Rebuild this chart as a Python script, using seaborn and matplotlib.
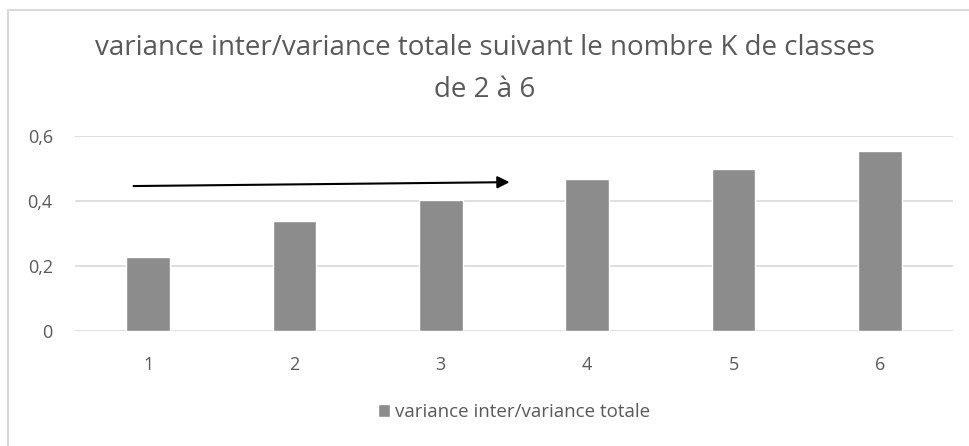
import pandas as pd
import matplotlib
matplotlib.use("Agg")
import matplotlib.pyplot as plt
import seaborn as sns
from matplotlib.patches import Rectangle

# data
k_labels = ["1", "2", "3", "4", "5", "6"]
ratio = [0.229, 0.338, 0.403, 0.467, 0.498, 0.554]
yticks = [0, 0.2, 0.4, 0.6]
ytick_labels = ["0", "0,2", "0,4", "0,6"]
series_name = "variance inter/variance totale"

df = pd.DataFrame({"K": k_labels, "ratio": ratio, "serie": series_name})

sns.set_style("white")
plt.rcParams["font.family"] = ["Open Sans", "DejaVu Sans"]
txt = "#595959"
grid = "#d9d9d9"
bar_col = "#8c8c8c"

fig = plt.figure(figsize=(9.7, 4.46), dpi=100)
ax = fig.add_axes([75 / 970, 1 - 331 / 446, 878 / 970, 195 / 446])

sns.barplot(data=df, x="K", y="ratio", hue="serie", palette=[bar_col],
            width=0.3, ax=ax, legend=True)

ax.set_ylim(0, 0.6)
ax.set_xlim(-0.5, 5.5)
ax.set_yticks(yticks)
ax.set_yticklabels(ytick_labels)
ax.yaxis.grid(True, color=grid, linewidth=1.2)
ax.set_axisbelow(True)
for s in ax.spines.values():
    s.set_visible(False)
ax.tick_params(axis="both", length=0, colors=txt, labelsize=13)
ax.tick_params(axis="y", pad=16)
ax.tick_params(axis="x", pad=18)
ax.set_xlabel("")
ax.set_ylabel("")

# arrow drawn on top of the chart
ax.annotate("", xy=(2.47, 0.458), xytext=(-0.10, 0.446),
            arrowprops=dict(arrowstyle="-|>", color="black", lw=1.5,
                            mutation_scale=18, shrinkA=0, shrinkB=0))

fig.text(0.5, 1 - 48 / 446, "variance inter/variance totale suivant le nombre K de classes",
         ha="center", va="center", fontsize=20, color=txt)
fig.text(0.5, 1 - 90 / 446, "de 2 à 6", ha="center", va="center", fontsize=20, color=txt)

leg = ax.legend(loc="center", bbox_to_anchor=(0.5, -(412 - 331) / 195),
                frameon=False, fontsize=13.5, handlelength=0.65, handleheight=0.65,
                handletextpad=0.3, borderaxespad=0)
for t in leg.get_texts():
    t.set_color(txt)

# light frame around the chart area
fig.patches.append(Rectangle((8 / 970, -0.1), 1.2, 1 - 10 / 446 + 0.1,
                             transform=fig.transFigure, fill=False,
                             edgecolor=grid, linewidth=1.5))

fig.savefig("out.png", dpi=100)
